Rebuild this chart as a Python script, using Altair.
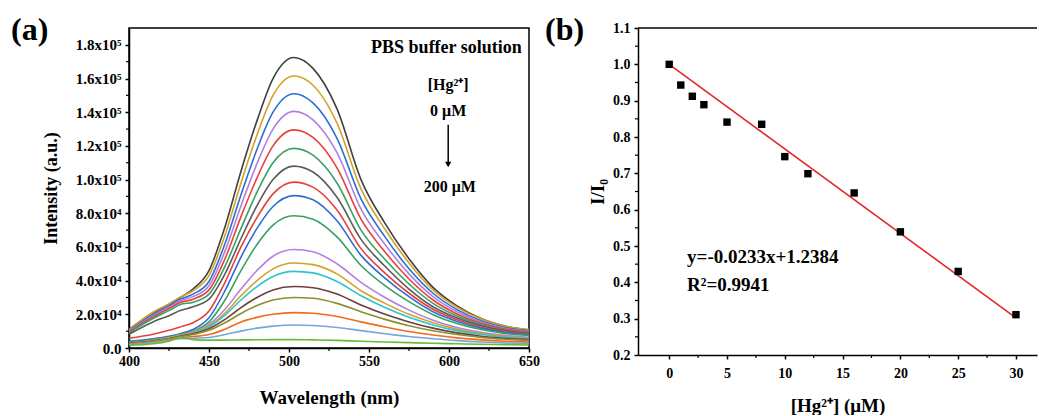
import altair as alt
import pandas as pd

FONT = "Liberation Serif"

# ---------------- panel (a): emission spectra ----------------
wavelength = [400, 415, 425, 432, 440, 450, 460, 470, 480, 490, 503, 515,
              530, 545, 560, 575, 590, 605, 620, 635, 650]

# intensities in units of 1e4 (a.u.), from 0 uM (top) to 200 uM (bottom)
spectra = [
    [1.10, 2.10, 2.60, 3.00, 3.50, 4.60, 7.20, 10.5, 13.5, 16.0, 17.25, 16.6, 14.2, 10.0, 7.4, 5.3, 3.6, 2.5, 1.75, 1.30, 1.07],
    [1.08, 2.12, 2.62, 3.02, 3.40, 4.30, 6.70, 9.80, 12.65, 15.0, 16.15, 15.6, 13.35, 9.45, 7.05, 5.05, 3.45, 2.42, 1.72, 1.30, 1.10],
    [1.02, 2.00, 2.50, 2.90, 3.20, 3.95, 6.20, 9.10, 11.8, 14.0, 15.1, 14.55, 12.45, 8.85, 6.6, 4.7, 3.25, 2.28, 1.62, 1.22, 1.02],
    [0.98, 1.92, 2.42, 2.80, 3.05, 3.70, 5.75, 8.45, 10.95, 13.0, 14.05, 13.55, 11.6, 8.25, 6.15, 4.4, 3.05, 2.15, 1.55, 1.17, 0.98],
    [0.95, 1.85, 2.35, 2.70, 2.90, 3.45, 5.30, 7.80, 10.1, 12.0, 12.95, 12.5, 10.7, 7.65, 5.7, 4.1, 2.85, 2.02, 1.47, 1.12, 0.94],
    [0.90, 1.75, 2.22, 2.58, 2.72, 3.20, 4.85, 7.10, 9.25, 11.0, 11.85, 11.45, 9.8, 7.0, 5.25, 3.8, 2.65, 1.9, 1.4, 1.07, 0.90],
    [0.82, 1.55, 1.92, 2.22, 2.45, 2.90, 4.40, 6.50, 8.45, 10.0, 10.8, 10.45, 8.95, 6.45, 4.85, 3.5, 2.45, 1.78, 1.32, 1.02, 0.86],
    [0.58, 0.82, 1.05, 1.25, 1.50, 2.20, 3.90, 6.00, 7.75, 9.15, 9.85, 9.55, 8.2, 5.9, 4.45, 3.25, 2.3, 1.68, 1.25, 0.97, 0.82],
    [0.40, 0.55, 0.70, 0.85, 1.10, 1.80, 3.40, 5.40, 7.10, 8.40, 9.05, 8.8, 7.55, 5.5, 4.15, 3.05, 2.15, 1.58, 1.18, 0.92, 0.78],
    [0.35, 0.50, 0.65, 0.80, 1.00, 1.55, 2.85, 4.60, 6.15, 7.30, 7.85, 7.65, 6.6, 4.9, 3.7, 2.75, 1.98, 1.45, 1.10, 0.87, 0.74],
    [0.30, 0.45, 0.60, 0.75, 0.95, 1.40, 2.30, 3.50, 4.60, 5.45, 5.85, 5.72, 5.0, 3.9, 3.0, 2.25, 1.65, 1.22, 0.93, 0.75, 0.63],
    [0.30, 0.45, 0.60, 0.75, 0.93, 1.32, 2.08, 3.10, 4.00, 4.70, 5.05, 4.95, 4.4, 3.4, 2.65, 2.0, 1.5, 1.12, 0.86, 0.70, 0.58],
    [0.28, 0.42, 0.56, 0.70, 0.88, 1.25, 1.95, 2.85, 3.65, 4.25, 4.55, 4.46, 3.95, 3.1, 2.4, 1.82, 1.37, 1.03, 0.80, 0.65, 0.55],
    [0.28, 0.42, 0.55, 0.70, 0.85, 1.15, 1.70, 2.40, 3.00, 3.45, 3.65, 3.58, 3.2, 2.55, 2.0, 1.55, 1.18, 0.90, 0.70, 0.58, 0.50],
    [0.25, 0.40, 0.55, 0.68, 0.80, 1.05, 1.50, 2.05, 2.52, 2.85, 3.00, 2.95, 2.65, 2.15, 1.7, 1.32, 1.02, 0.80, 0.63, 0.52, 0.45],
    [0.22, 0.35, 0.50, 0.60, 0.68, 0.80, 1.12, 1.55, 1.82, 2.00, 2.10, 2.06, 1.87, 1.55, 1.25, 0.98, 0.77, 0.60, 0.48, 0.40, 0.35],
    [0.20, 0.32, 0.45, 0.55, 0.58, 0.62, 0.80, 1.00, 1.18, 1.30, 1.37, 1.34, 1.22, 1.03, 0.85, 0.68, 0.55, 0.44, 0.36, 0.30, 0.27],
    [0.15, 0.25, 0.40, 0.62, 0.50, 0.47, 0.47, 0.48, 0.49, 0.50, 0.50, 0.48, 0.45, 0.40, 0.36, 0.32, 0.28, 0.25, 0.22, 0.20, 0.18],
]
series_names = [f"s{i+1:02d}" for i in range(len(spectra))]
series_colors = ["#404040", "#d3a328", "#2b6fd4", "#b27fe0", "#e6413d", "#39a065",
                 "#5a5a5a", "#e6413d", "#2b6fd4", "#39a065", "#b27fe0", "#d3a328",
                 "#2ec3cf", "#6e3d3d", "#8e8e2c", "#f26a1d", "#74a7d8", "#68bb35"]

rows = []
for name, vals in zip(series_names, spectra):
    for w, v in zip(wavelength, vals):
        rows.append({"series": name, "wl": w, "I": v * 1e4})
spec_df = pd.DataFrame(rows)

a_x_ticks = [400, 450, 500, 550, 600, 650]
a_x_minor = [425, 475, 525, 575, 625]
a_y_ticks = [0, 2e4, 4e4, 6e4, 8e4, 1e5, 1.2e5, 1.4e5, 1.6e5, 1.8e5]
a_y_minor = [1e4, 3e4, 5e4, 7e4, 9e4, 1.1e5, 1.3e5, 1.5e5, 1.7e5]

A_W, A_H = 400, 320
xa_scale = alt.Scale(domain=[400, 650], nice=False, zero=False, padding=0)
ya_scale = alt.Scale(domain=[0, 1.9e5], nice=False, padding=0)

axis_common = dict(
    domainColor="black", domainWidth=1.5, tickColor="black", tickWidth=1.5,
    labelFont=FONT, labelFontWeight="bold", labelColor="black", labelFlush=False,
    titleFont=FONT, titleFontWeight="bold", titleColor="black", grid=False,
)

xa_axis = alt.Axis(values=a_x_ticks, tickSize=4, labelPadding=2, labelFontSize=14,
                   title="Wavelength (nm)", titleFontSize=19, titlePadding=20, **axis_common)
ya_axis = alt.Axis(values=a_y_ticks, tickSize=4, labelPadding=4, labelFontSize=15,
                   labelExpr="datum.value == 0 ? '0.0' : (datum.value >= 100000 ? format(datum.value/100000, '.1f') + 'x10⁵' : format(datum.value/10000, '.1f') + 'x10⁴')",
                   title="Intensity (a.u.)", titleFontSize=18, titlePadding=15, **axis_common)


def XA(field):
    return alt.X(field, scale=xa_scale, axis=xa_axis)


def YA(field):
    return alt.Y(field, scale=ya_scale, axis=ya_axis)


lines_a = alt.Chart(spec_df).mark_line(strokeWidth=1.6, interpolate="monotone").encode(
    x=XA("wl:Q"),
    y=YA("I:Q"),
    color=alt.Color("series:N", scale=alt.Scale(domain=series_names, range=series_colors), legend=None),
    order=alt.Order("series:N", sort="descending"),
)

minor_xa = alt.Chart(pd.DataFrame({"wl": a_x_minor})).mark_rule(color="black", strokeWidth=1.2).encode(
    x=XA("wl:Q"), y=alt.value(A_H), y2=alt.value(A_H + 3))
minor_ya = alt.Chart(pd.DataFrame({"I": a_y_minor})).mark_rule(color="black", strokeWidth=1.2).encode(
    y=YA("I:Q"), x=alt.value(0), x2=alt.value(-3))

ann_wl = [645.5, 599.5, 599.5, 600.5]
ann_I = [1.78e5, 1.56e5, 1.41e5, 0.955e5]
ann_text = ["PBS buffer solution", "[Hg²⁺]", "0 μM", "200 μM"]
ann_a = pd.DataFrame({"wl": ann_wl, "I": ann_I, "text": ann_text})

text_pbs = alt.Chart(ann_a.iloc[[0]]).mark_text(font=FONT, fontWeight="bold", fontSize=18,
                                                 align="right", baseline="middle", color="black").encode(
    x=XA("wl:Q"), y=YA("I:Q"), text="text:N")
text_hg = alt.Chart(ann_a.iloc[1:]).mark_text(font=FONT, fontWeight="bold", fontSize=16,
                                               align="center", baseline="middle", color="black").encode(
    x=XA("wl:Q"), y=YA("I:Q"), text="text:N")

arrow_df = pd.DataFrame({"wl": [599.5], "I": [1.325e5], "I2": [1.09e5]})
arrow_shaft = alt.Chart(arrow_df).mark_rule(color="black", strokeWidth=1.5).encode(
    x=XA("wl:Q"), y=YA("I:Q"), y2="I2:Q")
arrow_head = alt.Chart(pd.DataFrame({"wl": [599.5], "I": [1.09e5]})).mark_point(
    shape="triangle-down", filled=True, color="black", size=40, opacity=1).encode(
    x=XA("wl:Q"), y=YA("I:Q"))

label_a = alt.Chart(pd.DataFrame({"t": ["(a)"]})).mark_text(
    font=FONT, fontWeight="bold", fontSize=32, align="left", baseline="middle", color="black").encode(
    x=alt.value(-118), y=alt.value(2), text="t:N")

chart_a = alt.layer(lines_a, minor_xa, minor_ya, text_pbs, text_hg, arrow_shaft, arrow_head, label_a).properties(
    width=A_W, height=A_H)

# ---------------- panel (b): linear fit ----------------
hg_conc = [0, 1, 2, 3, 5, 8, 10, 12, 16, 20, 25, 30]
ratio = [1.0, 0.943, 0.912, 0.889, 0.841, 0.835, 0.746, 0.699, 0.646, 0.539, 0.430, 0.311]
fit_x = [0, 30]
fit_y = [1.0, 0.302]

b_x_ticks = [0, 5, 10, 15, 20, 25, 30]
b_x_minor = [2.5, 7.5, 12.5, 17.5, 22.5, 27.5]
b_y_ticks = [0.2, 0.3, 0.4, 0.5, 0.6, 0.7, 0.8, 0.9, 1.0, 1.1]
b_y_minor = [0.25, 0.35, 0.45, 0.55, 0.65, 0.75, 0.85, 0.95, 1.05]

B_W, B_H = 399, 327
xb_scale = alt.Scale(domain=[-2.7, 31.82], nice=False, zero=False, padding=0)
yb_scale = alt.Scale(domain=[0.2, 1.1], nice=False, zero=False, padding=0)

xb_axis = alt.Axis(values=b_x_ticks, tickSize=4, labelPadding=7, labelFontSize=14,
                   title="[Hg²⁺] (μM)", titleFontSize=19, titlePadding=16, **axis_common)
yb_axis = alt.Axis(values=b_y_ticks, format=".1f", tickSize=4, labelPadding=4, labelFontSize=14,
                   title="I/I₀", titleFontSize=19, titlePadding=5, **axis_common)


def XB(field):
    return alt.X(field, scale=xb_scale, axis=xb_axis)


def YB(field):
    return alt.Y(field, scale=yb_scale, axis=yb_axis)


fit_line = alt.Chart(pd.DataFrame({"x": fit_x, "y": fit_y})).mark_line(color="#e3282a", strokeWidth=1.6).encode(
    x=XB("x:Q"), y=YB("y:Q"))
points_b = alt.Chart(pd.DataFrame({"x": hg_conc, "y": ratio})).mark_square(
    color="black", size=55, opacity=1).encode(x=XB("x:Q"), y=YB("y:Q"))

minor_xb = alt.Chart(pd.DataFrame({"x": b_x_minor})).mark_rule(color="black", strokeWidth=1.2).encode(
    x=XB("x:Q"), y=alt.value(B_H), y2=alt.value(B_H + 3))
minor_yb = alt.Chart(pd.DataFrame({"y": b_y_minor})).mark_rule(color="black", strokeWidth=1.2).encode(
    y=YB("y:Q"), x=alt.value(0), x2=alt.value(-3))

top_border_b = alt.Chart(pd.DataFrame({"k": [0]})).mark_rule(color="black", strokeWidth=1.5).encode(
    x=alt.value(0), x2=alt.value(B_W), y=alt.value(0))

eq_df = pd.DataFrame({"x": [1.55, 1.55], "y": [0.470, 0.393],
                      "t": ["y=-0.0233x+1.2384", "R²=0.9941"]})
eq_text = alt.Chart(eq_df).mark_text(font=FONT, fontWeight="bold", fontSize=19, align="left",
                                     baseline="middle", color="black").encode(
    x=XB("x:Q"), y=YB("y:Q"), text="t:N")

label_b = alt.Chart(pd.DataFrame({"t": ["(b)"]})).mark_text(
    font=FONT, fontWeight="bold", fontSize=32, align="left", baseline="middle", color="black").encode(
    x=alt.value(-93), y=alt.value(2), text="t:N")

chart_b = alt.layer(fit_line, points_b, minor_xb, minor_yb, top_border_b, eq_text, label_b).properties(
    width=B_W, height=B_H, view=alt.ViewBackground(stroke="transparent", strokeWidth=0))

chart = alt.hconcat(chart_a, chart_b, spacing=4).properties(
    padding={"left": 10, "top": 13, "right": 0, "bottom": 0},
    background="white",
).configure_view(stroke="black", strokeWidth=1.5)

chart.save("out.html", embed_options={"renderer": "svg", "actions": False})
